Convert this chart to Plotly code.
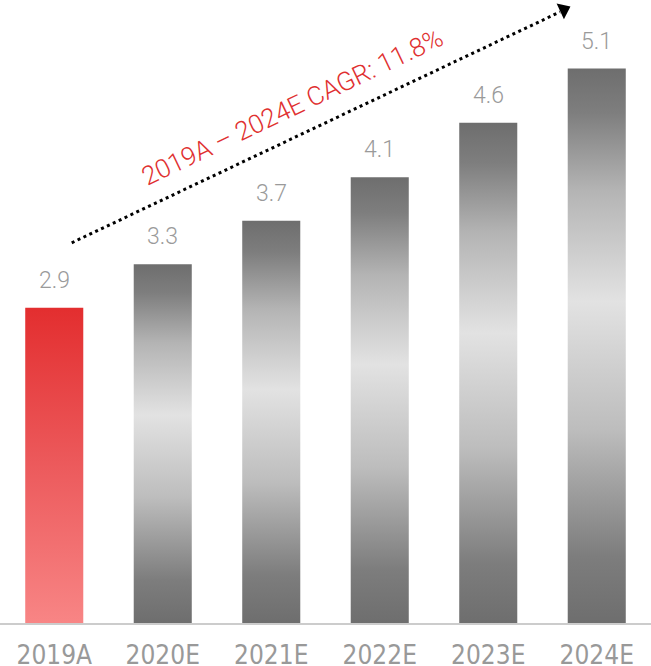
import plotly.graph_objects as go

# Market size by year (actual 2019, estimates 2020-2024)
categories = ["2019A", "2020E", "2021E", "2022E", "2023E", "2024E"]
values = [2.9, 3.3, 3.7, 4.1, 4.6, 5.1]
is_actual = [True, False, False, False, False, False]
cagr_label = "2019A – 2024E CAGR: 11.8%"

BAR_W = 0.535
RED_SCALE = [[0.0, "#f88585"], [0.5, "#ec5a5c"], [1.0, "#e32e2f"]]
GREY_SCALE = [
    [0.0, "#6e6e6e"],
    [0.12, "#7d7d7d"],
    [0.35, "#bdbdbd"],
    [0.58, "#e2e2e2"],
    [0.78, "#b4b4b4"],
    [0.92, "#7e7e7e"],
    [1.0, "#6e6e6e"],
]

fig = go.Figure()

# Bars drawn as filled polygons so each can carry a vertical gradient
for i, (v, actual) in enumerate(zip(values, is_actual)):
    x0, x1 = i - BAR_W / 2, i + BAR_W / 2
    fig.add_trace(go.Scatter(
        x=[x0, x1, x1, x0, x0],
        y=[0, 0, v, v, 0],
        mode="lines",
        line=dict(width=0),
        fill="toself",
        fillgradient=dict(type="vertical",
                          colorscale=RED_SCALE if actual else GREY_SCALE),
        hoverinfo="skip",
        showlegend=False,
    ))
    fig.add_annotation(
        x=i, y=v, text=f"{v:.1f}", showarrow=False,
        yanchor="bottom", yshift=12,
        font=dict(family="Roboto", size=23, color="#9a9a9a", weight=300),
    )

# Dotted growth arrow
fig.add_trace(go.Scatter(
    x=[0.161, 4.661], y=[3.497, 5.62],
    mode="lines",
    line=dict(color="#000000", width=3, dash="3px,3.5px"),
    hoverinfo="skip", showlegend=False, cliponaxis=False,
))
fig.add_trace(go.Scatter(
    x=[4.695], y=[5.64],
    mode="markers",
    marker=dict(symbol="triangle-up", size=15, angle=65, color="#000000",
                line=dict(width=0)),
    hoverinfo="skip", showlegend=False, cliponaxis=False,
))
fig.add_annotation(
    x=2.19, y=4.75, text=cagr_label, showarrow=False,
    textangle=-25.5,
    font=dict(family="Roboto", size=26, color="#e03030", weight=300),
)

fig.update_layout(
    width=651, height=666,
    margin=dict(l=0, r=0, t=0, b=43, autoexpand=False),
    paper_bgcolor="white", plot_bgcolor="white",
    xaxis=dict(
        range=[-0.5, 5.5],
        tickvals=list(range(len(categories))),
        ticktext=categories,
        showgrid=False, zeroline=False,
        showline=True, linecolor="#cccccc", linewidth=2,
        ticks="outside", ticklen=8, tickcolor="rgba(0,0,0,0)",
        tickfont=dict(family="Liberation Sans Narrow, DejaVu Sans Condensed, Roboto",
                      size=26, color="#999999"),
        automargin=False,
        fixedrange=True,
    ),
    yaxis=dict(range=[0, 5.73], visible=False, fixedrange=True),
)

fig.write_html("out.html")
